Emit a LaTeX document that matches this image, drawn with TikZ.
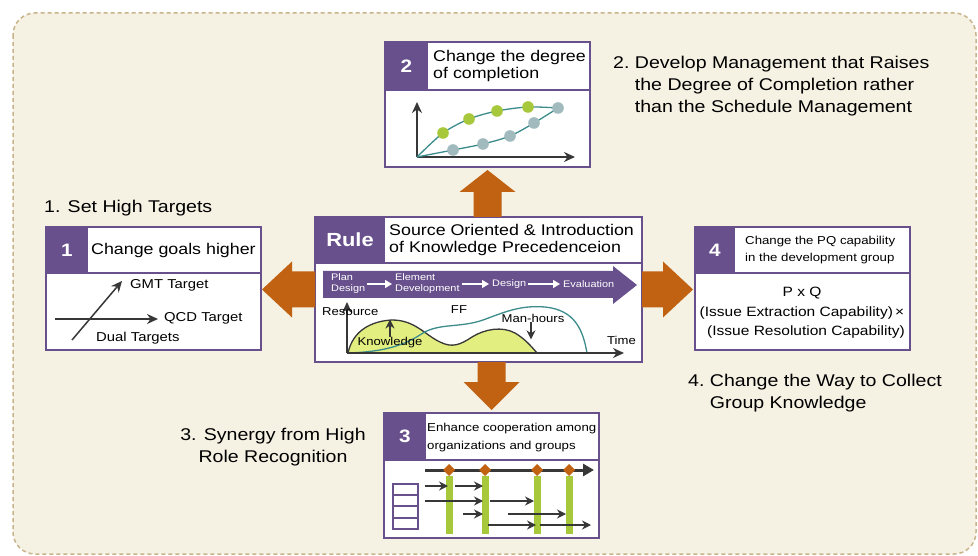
\documentclass[tikz,border=0pt]{standalone}
\usepackage{fontspec}
\setmainfont{Liberation Sans}[FakeStretch=1.15]
\usetikzlibrary{positioning,arrows.meta}

\definecolor{paper}{RGB}{245,241,227}
\definecolor{rim}{RGB}{200,180,138}
\definecolor{plum}{RGB}{103,80,140}
\definecolor{rust}{RGB}{192,98,18}
\definecolor{lime}{RGB}{226,238,128}
\definecolor{leaf}{RGB}{168,200,60}
\definecolor{curvecol}{RGB}{60,140,140}
\definecolor{mist}{RGB}{160,186,190}
\definecolor{ink}{RGB}{55,55,55}

\tikzset{
  panel/.style={draw=plum, line width=1.8pt, fill=white, outer sep=0pt, inner sep=0pt},
  numtab/.style={fill=plum, text=white, outer sep=0pt, inner sep=0pt,
                 font=\bfseries\fontsize{18}{18}\selectfont},
  headtext/.style={inner sep=0pt, align=left, font=\fontsize{15.5}{17.5}\selectfont},
  smallhead/.style={inner sep=0pt, align=left, font=\fontsize{11.5}{17.5}\selectfont},
  caption/.style={inner sep=0pt, align=left, font=\fontsize{17}{22}\selectfont},
  bodytext/.style={inner sep=0pt, font=\fontsize{13.5}{19.5}\selectfont},
  chartlbl/.style={inner sep=0pt, font=\fontsize{11.4}{12}\selectfont},
  targetlbl/.style={inner sep=0pt, font=\fontsize{12.9}{14}\selectfont},
  stage/.style={inner sep=0pt, align=left, text=white, font=\fontsize{9.5}{11}\selectfont},
  axisline/.style={draw=ink, line width=1.5pt, -{Stealth[length=11pt,width=10pt]}},
  thinarrow/.style={draw=ink, line width=1.4pt, -{Stealth[length=9pt,width=9pt]}},
  whitearrow/.style={draw=white, line width=1.4pt, -{Triangle[length=7pt,width=8pt]},
                     shorten <=2pt, shorten >=3pt},
  bigarrow/.style={fill=rust},
}

\begin{document}
\begin{tikzpicture}[x=1pt, y=-1pt]
\useasboundingbox (0,0) rectangle (978,556);
\fill[white] (0,0) rectangle (978,556);
\draw[fill=paper, draw=rim, line width=1.5pt, dash pattern=on 4pt off 3pt,
      rounded corners=22pt] (13,13) rectangle (976,554);

% panels
\node[panel, anchor=north west, minimum width=215pt, minimum height=123pt] (box1) at (46,227) {};
\node[panel, anchor=north west, minimum width=205pt, minimum height=125pt] (box2) at (385,42) {};
\node[panel, anchor=north west, minimum width=327pt, minimum height=145pt] (rule) at (315,217) {};
\node[panel, anchor=north west, minimum width=215pt, minimum height=123pt] (box4) at (695,227) {};
\node[panel, anchor=north west, minimum width=215pt, minimum height=125pt] (box3) at (384,413) {};

% headers
\node[numtab, anchor=north west, minimum width=42pt, minimum height=46pt] (tab1) at (box1.north west) {1};
\node[numtab, anchor=north west, minimum width=43pt, minimum height=48pt] (tab2) at (box2.north west) {2};
\node[numtab, anchor=north west, minimum width=70pt, minimum height=46pt,
      font=\bfseries\fontsize{19}{19}\selectfont] (tabr) at (rule.north west) {Rule};
\node[numtab, anchor=north west, minimum width=40pt, minimum height=46pt] (tab4) at (box4.north west) {4};
\node[numtab, anchor=north west, minimum width=42pt, minimum height=47pt] (tab3) at (box3.north west) {3};
\foreach \t/\b in {tab1/box1, tab2/box2, tabr/rule, tab4/box4, tab3/box3}
  \draw[plum, line width=1.8pt] (\t.south west) -- (\t.south west -| \b.east);

\node[headtext, right=3pt of tab1] (head1) {Change goals higher};
\node[headtext, right=5pt of tab2] (head2) {Change the degree\\of completion};
\node[headtext, right=4pt of tabr] (headr) {Source Oriented \& Introduction\\of Knowledge Precedenceion};
\node[smallhead, right=10pt of tab4] (head4) {Change the PQ capability\\in the development group};
\node[smallhead, right=1pt of tab3, yshift=-1pt] (head3) {Enhance cooperation among\\organizations and groups};

% orange arrows
\fill[bigarrow] (rule.north -| box2.south) ++(-14,0) -- ++(0,-25) -- ++(-14,0) -- ++(28,-22)
  -- ++(28,22) -- ++(-14,0) -- ++(0,25) -- cycle;
\fill[bigarrow] (rule.south -| box3.north) ++(-14,0) -- ++(0,20) -- ++(-14,0) -- ++(28,28)
  -- ++(28,-28) -- ++(-14,0) -- ++(0,-20) -- cycle;
\fill[bigarrow] (rule.west) ++(0,-18) -- ++(-23,0) -- ++(0,-10) -- ++(-30,28)
  -- ++(30,28) -- ++(0,-10) -- ++(23,0) -- cycle;
\fill[bigarrow] (rule.east) ++(0,-18) -- ++(21,0) -- ++(0,-10) -- ++(30,28)
  -- ++(-30,28) -- ++(0,-10) -- ++(-21,0) -- cycle;

% 1: targets
\draw[axisline] (55,319) -- (158,319);
\draw[axisline] (72,340) -- (122,281);
\node[targetlbl, anchor=west] (gmt) at (130,285) {GMT Target};
\node[targetlbl, anchor=west] (qcd) at (164,318) {QCD Target};
\node[targetlbl, anchor=west] (dual) at (96,338) {Dual Targets};

% 2: completion chart
\draw[axisline] (417,157) -- (417,102);
\draw[axisline] (417,157) -- (575,157);
\draw[curvecol, line width=1.3pt] plot[smooth] coordinates {(417,157) (443,133) (469,119) (497,111) (528,107) (558,108)};
\draw[curvecol, line width=1.3pt] plot[smooth] coordinates {(417,157) (453,150) (483,144) (510,136) (534,123) (558,108)};
\foreach \x/\y in {443/133, 469/119, 497/111, 528/107}
  \fill[leaf] (\x,\y) circle (5.8pt);
\foreach \x/\y in {453/150, 483/144, 510/136, 534/123, 558/108}
  \fill[mist] (\x,\y) circle (5.8pt);

% rule: process arrow
\fill[plum] (323,271) -- (613,271) -- (613,266) -- (637,285) -- (613,304) -- (613,298)
  -- (323,298) -- cycle;
\node[stage, anchor=west] (plan) at (331,284) {Plan\\Design};
\node[stage, anchor=west] (element) at (395,284) {Element\\Development};
\node[stage, anchor=west] (design) at (492,284) {Design};
\node[stage, anchor=west] (evaluation) at (563,284) {Evaluation};
\draw[whitearrow] (plan.east) -- (element.west);
\draw[whitearrow] (element.east) -- (design.west);
\draw[whitearrow] (design.east) -- (evaluation.west);

% rule: resource chart
\filldraw[fill=lime, draw=ink, line width=1.3pt] (348,353) .. controls (353,330) and (372,321) .. (392,320)
  .. controls (415,320) and (425,335) .. (440,342) .. controls (452,348) and (460,345) .. (472,337)
  .. controls (485,329) and (502,326) .. (515,333) .. controls (525,339) and (531,346) .. (537,353) -- cycle;
\draw[curvecol, line width=1.3pt] (347,353) .. controls (385,352) and (405,345) .. (423,333)
  .. controls (440,323) and (460,328) .. (483,320) .. controls (505,312) and (520,305) .. (545,307)
  .. controls (575,310) and (583,330) .. (587,353);
\draw[axisline] (347,353) -- (347,302);
\draw[axisline] (347,353) -- (624,353);
\node[chartlbl, anchor=west] (resource) at (322,312) {Resource};
\node[chartlbl] (ff) at (459,310) {FF};
\node[chartlbl] (manhours) at (533,318) {Man-hours};
\node[chartlbl, anchor=west] (time) at (607,340) {Time};
\node[chartlbl] (knowledge) at (390,343) {Knowledge};
\draw[thinarrow] (knowledge.north) -- ++(0,-18);
\draw[thinarrow] ([xshift=-2pt]manhours.south) -- ++(0,17);

% 4: capability
\node[bodytext, align=center] (pq) at (802,313) {P x Q\\(Issue Extraction Capability)\,×\\\hspace*{8pt}(Issue Resolution Capability)};

% 3: cooperation
\foreach \x in {449,485,537,569}
  \fill[leaf] (\x-3.5,476) rectangle (\x+3.5,534);
\draw[ink, line width=3pt, -{Triangle[length=11pt,width=12pt]}] (425,470) -- (594,470);
\foreach \x in {449,485,537,569}
  \fill[rust] (\x,464) -- (\x+6,470) -- (\x,476) -- (\x-6,470) -- cycle;
\draw[thinarrow] (425,486) -- (448,486);
\draw[thinarrow] (455,486) -- (483,486);
\draw[thinarrow] (425,501) -- (483,501);
\draw[thinarrow] (490,501) -- (534,501);
\draw[thinarrow] (463,514) -- (483,514);
\draw[thinarrow] (508,514) -- (566,514);
\draw[thinarrow] (488,525) -- (536,525);
\draw[thinarrow] (540,525) -- (591,525);
\draw[plum, line width=1.1pt] (393,484) rectangle (418,529);
\foreach \y in {495,506,518}
  \draw[plum, line width=1.1pt] (393,\y) -- (418,\y);

% captions
\node[caption, anchor=west] (cap1) at (44,208) {1. Set High Targets};
\node[caption, anchor=base west] (cap2) at (613,69) {2.~\begin{tabular}[t]{@{}l@{}}Develop Management that Raises\\the Degree of Completion rather\\than the Schedule Management\end{tabular}};
\node[caption, align=center] (cap3) at (273,447) {3. Synergy from High\\Role Recognition};
\node[caption, anchor=base west] (cap4) at (688,386) {4.~\begin{tabular}[t]{@{}l@{}}Change the Way to Collect\\Group Knowledge\end{tabular}};
\end{tikzpicture}
\end{document}
